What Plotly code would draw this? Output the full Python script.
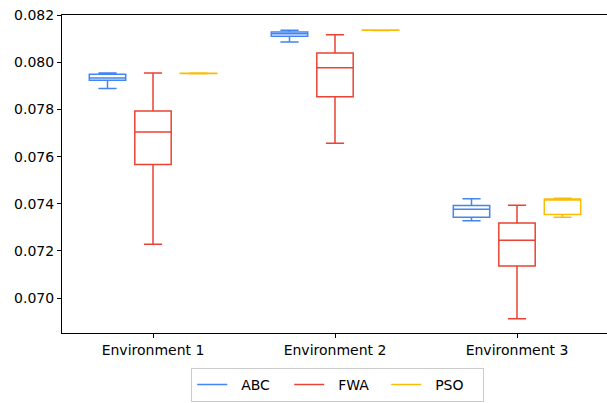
import plotly.graph_objects as go

categories = ["Environment 1", "Environment 2", "Environment 3"]
series_names = ["ABC", "FWA", "PSO"]
colors = ["#4285F4", "#EA4335", "#FBBC05"]

abc_lower = [0.07889, 0.08086, 0.07328]
abc_q1 = [0.07924, 0.08111, 0.07343]
abc_median = [0.07934, 0.08121, 0.07377]
abc_q3 = [0.07950, 0.08129, 0.07393]
abc_upper = [0.07955, 0.08136, 0.07421]

fwa_lower = [0.07229, 0.07657, 0.06912]
fwa_q1 = [0.07567, 0.07854, 0.07136]
fwa_median = [0.07705, 0.07977, 0.07245]
fwa_q3 = [0.07794, 0.08040, 0.07319]
fwa_upper = [0.07955, 0.08117, 0.07394]

pso_lower = [0.07952, 0.08135, 0.07343]
pso_q1 = [0.07953, 0.08136, 0.07355]
pso_median = [0.07953, 0.08136, 0.07420]
pso_q3 = [0.07954, 0.08137, 0.07420]
pso_upper = [0.07955, 0.08137, 0.07424]

stats = [
    (abc_lower, abc_q1, abc_median, abc_q3, abc_upper),
    (fwa_lower, fwa_q1, fwa_median, fwa_q3, fwa_upper),
    (pso_lower, pso_q1, pso_median, pso_q3, pso_upper),
]

font = "DejaVu Sans"
fig = go.Figure()
for name, color, (lo, q1, med, q3, up) in zip(series_names, colors, stats):
    fig.add_trace(go.Box(
        x=categories, lowerfence=lo, q1=q1, median=med, q3=q3, upperfence=up,
        name=name, line=dict(color=color, width=1.5), fillcolor="rgba(0,0,0,0)",
        whiskerwidth=0.5, showlegend=False, boxpoints=False,
    ))
for name, color in zip(series_names, colors):
    fig.add_trace(go.Scatter(
        x=[None], y=[None], mode="lines", name="  " + name,
        line=dict(color=color, width=1.5), showlegend=True,
    ))

fig.update_layout(
    width=620, height=403,
    margin=dict(l=62, r=12, t=15, b=70, autoexpand=False),
    paper_bgcolor="white", plot_bgcolor="white",
    boxmode="group", boxgap=0.25, boxgroupgap=0.2,
    font=dict(family=font, size=14, color="black"),
    legend=dict(
        orientation="h", x=0.505, xanchor="center", y=-0.11, yanchor="top",
        bordercolor="#cccccc", borderwidth=1, font=dict(size=14),
        entrywidth=52, tracegroupgap=0,
    ),
)
fig.update_xaxes(
    type="category", range=[-0.5, 2.5], showline=True, linecolor="black",
    linewidth=1, mirror=True, ticks="outside", ticklen=4, tickcolor="black",
    showgrid=False, zeroline=False, automargin=False,
)
fig.update_yaxes(
    range=[0.06852, 0.08201], tickvals=[0.070, 0.072, 0.074, 0.076, 0.078, 0.080, 0.082],
    tickformat=".3f", showline=True, linecolor="black", linewidth=1,
    ticks="outside", ticklen=4, tickcolor="black", showgrid=False, zeroline=False,
    automargin=False, ticklabeloverflow="allow",
)
fig.write_html(
    "out.html",
    config={"displayModeBar": False},
    post_script="document.body.style.margin='0';document.body.style.overflow='hidden';",
)
